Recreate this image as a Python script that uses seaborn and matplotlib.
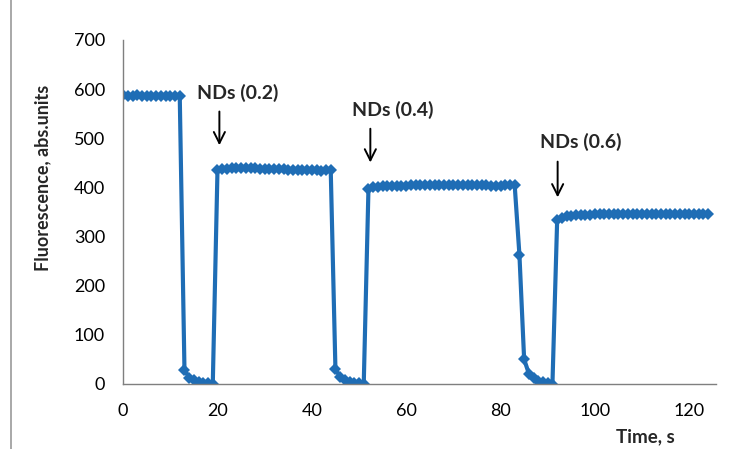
import matplotlib
matplotlib.use('Agg')
import matplotlib.pyplot as plt
import seaborn as sns
import pandas as pd
from matplotlib.lines import Line2D

# time points (s) and fluorescence readings (abs. units)
time_s = [
    0, 1, 2, 3, 4, 5, 6, 7, 8, 9, 10, 11, 12,
    13, 14, 15, 16, 17, 18, 19,
    20, 21, 22, 23, 24, 25, 26, 27, 28, 29, 30, 31, 32, 33, 34, 35, 36, 37, 38, 39, 40, 41, 42, 43, 44,
    45, 46, 47, 48, 49, 50, 51,
    52, 53, 54, 55, 56, 57, 58, 59, 60, 61, 62, 63, 64, 65, 66, 67, 68, 69, 70, 71, 72, 73, 74, 75,
    76, 77, 78, 79, 80, 81, 82, 83,
    84, 85, 86, 87, 88, 89, 90, 91,
    92, 93, 94, 95, 96, 97, 98, 99, 100, 101, 102, 103, 104, 105, 106, 107, 108, 109, 110, 111, 112,
    113, 114, 115, 116, 117, 118, 119, 120, 121, 122, 123, 124,
]
fluorescence = [
    587, 586, 586, 587, 585, 586, 586, 585, 586, 585, 585, 586, 585,
    28, 13, 7, 4, 2, 1, 0,
    436, 438, 438, 439, 439, 439, 440, 439, 439, 438, 438, 438, 437, 437, 437, 436, 436, 436, 436, 435,
    435, 435, 434, 435, 436,
    30, 14, 7, 4, 2, 1, 0,
    397, 400, 401, 402, 402, 403, 403, 403, 403, 404, 404, 404, 404, 404, 404, 404, 404, 404, 404, 404,
    404, 404, 404, 404, 404, 404, 403, 403, 403, 404, 404, 404,
    263, 50, 21, 11, 6, 3, 1, 0,
    333, 338, 341, 342, 343, 344, 344, 344, 345, 345, 345, 345, 345, 346, 346, 346, 346, 346, 346, 346,
    346, 346, 346, 346, 346, 346, 346, 346, 346, 346, 346, 346, 346,
]

# arrow annotations: label, arrow x, arrow top, arrow bottom, text x, text y
nd_labels = ['NDs (0.2)', 'NDs (0.4)', 'NDs (0.6)']
nd_arrow_x = [20.4, 52.4, 92.1]
nd_arrow_top = [560, 525, 458]
nd_arrow_bottom = [480, 445, 374]
nd_text_x = [15.7, 48.5, 88.4]
nd_text_y = [593, 558, 493]

df = pd.DataFrame({'time': time_s, 'fluor': fluorescence})

sns.set_style('white')
plt.rcParams['font.family'] = ['Lato', 'DejaVu Sans']

fig = plt.figure(figsize=(7.33, 4.49), dpi=100)
ax = fig.add_axes([0.168, 0.145, 0.809, 0.766])

blue = '#1f6db5'
sns.lineplot(data=df, x='time', y='fluor', ax=ax, color=blue, linewidth=3.0,
             marker='D', markersize=6, markeredgewidth=0, markerfacecolor=blue)

ax.set_xlim(0, 125.7)
ax.set_ylim(0, 700)
ax.set_xticks(range(0, 121, 20))
ax.set_yticks(range(0, 701, 100))

for side in ['top', 'right']:
    ax.spines[side].set_visible(False)
for side in ['left', 'bottom']:
    ax.spines[side].set_color('#7f7f7f')
    ax.spines[side].set_linewidth(1.0)
ax.tick_params(axis='both', direction='out', length=6, width=1, color='#7f7f7f',
               labelsize=13, labelcolor='black')
ax.tick_params(axis='y', pad=7)
ax.tick_params(axis='x', pad=8)

ax.set_xlabel('Time, s', fontsize=13.5, fontweight='bold')
ax.set_ylabel('Fluorescence, abs.units', fontsize=13, fontweight='bold')
ax.xaxis.set_label_coords(0.88, -0.128)
ax.yaxis.set_label_coords(-0.121, 0.6)

for lab, ax_x, top, bot, tx, ty in zip(nd_labels, nd_arrow_x, nd_arrow_top, nd_arrow_bottom,
                                       nd_text_x, nd_text_y):
    ax.annotate('', xy=(ax_x, bot), xytext=(ax_x, top),
                arrowprops=dict(arrowstyle='->', color='black', lw=1.4, mutation_scale=20))
    ax.text(tx, ty, lab, fontsize=14, fontweight='bold', va='center', ha='left')

# thin grey frame edge on the left of the picture
fig.add_artist(Line2D([0.015, 0.015], [0, 1], transform=fig.transFigure,
                      color='#9a9a9a', lw=1.2))

fig.savefig('out.png', dpi=100)
